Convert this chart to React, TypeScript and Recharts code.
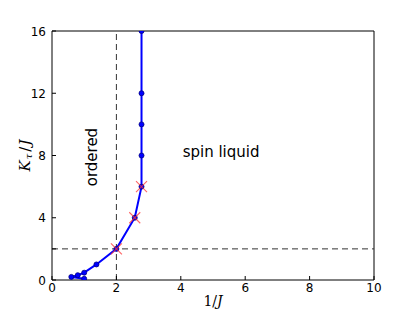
import React from 'react';
import { ComposedChart, Line, XAxis, YAxis, ReferenceLine, ReferenceDot } from 'recharts';

// phase boundary (blue line)
const boundaryInvJ = [1.0, 0.6, 0.8, 1.0, 1.38, 2.0, 2.57, 2.78, 2.78, 2.78, 2.78, 2.78];
const boundaryK = [0.08, 0.2, 0.31, 0.47, 1.0, 2.0, 4.0, 6.0, 8.0, 10.0, 12.0, 16.0];

// red crosses
const crossInvJ = [2.0, 2.57, 2.78];
const crossK = [2.0, 4.0, 6.0];

const xTicks = [0, 2, 4, 6, 8, 10];
const yTicks = [0, 2, 4, 8, 12, 16];
const yHiddenLabels = [2];

const boundary = boundaryInvJ.map((x, i) => ({ x, k: boundaryK[i] }));
const crosses = crossInvJ.map((x, i) => ({ x, k: crossK[i] }));

const tickFont = { fontFamily: 'DejaVu Sans', fontSize: 12, fill: '#000' };
const TL = 4;

const LeftTick = (props: any) => {
  const { x, y, payload } = props;
  return (
    <g>
      <line x1={x + 6} y1={y} x2={x + 6 + TL} y2={y} stroke="#000" />
      {!yHiddenLabels.includes(payload.value) && (
        <text x={x} y={y} dy={4.5} textAnchor="end" {...tickFont}>{payload.value}</text>
      )}
    </g>
  );
};

const BottomTick = (props: any) => {
  const { x, y, payload } = props;
  return (
    <g>
      <line x1={x} y1={y - 3} x2={x} y2={y - 3 - TL} stroke="#000" />
      <text x={x} y={y} dy={9} textAnchor="middle" {...tickFont}>{payload.value}</text>
    </g>
  );
};

const Cross = (props: any) => {
  const { cx, cy } = props;
  if (cx == null || cy == null) return null;
  const s = 5.5;
  return (
    <g stroke="#ff3030" strokeOpacity={0.75} strokeWidth={1.1}>
      <line x1={cx - s} y1={cy - s} x2={cx + s} y2={cy + s} />
      <line x1={cx - s} y1={cy + s} x2={cx + s} y2={cy - s} />
    </g>
  );
};

const YTitle = (props: any) => {
  const { viewBox } = props;
  const cx = viewBox.x + 25;
  const cy = viewBox.y + viewBox.height / 2;
  return (
    <text
      x={cx}
      y={cy}
      transform={`rotate(-90, ${cx}, ${cy})`}
      textAnchor="middle"
      dominantBaseline="central"
      fontFamily="DejaVu Serif"
      fontStyle="italic"
      fontSize={15}
      fill="#000"
    >
      K
      <tspan fontSize={10} dy={3} dx={1}>τ</tspan>
      <tspan dy={-3} dx={2} fontStyle="normal">/</tspan>
      <tspan dx={1}>J</tspan>
    </text>
  );
};

const XTitle = (props: any) => {
  const { viewBox } = props;
  const cx = viewBox.x + viewBox.width / 2;
  const cy = viewBox.y + 21;
  return (
    <text x={cx} y={cy} textAnchor="middle" dominantBaseline="central" fontFamily="DejaVu Serif" fontSize={14} fill="#000">
      1/<tspan fontStyle="italic">J</tspan>
    </text>
  );
};

const regionLabel = (text: string, rotate: boolean) => (props: any) => {
  const { viewBox } = props;
  const cx = viewBox.x + (viewBox.width || 0) / 2;
  const cy = viewBox.y + (viewBox.height || 0) / 2;
  return (
    <text
      x={cx}
      y={cy}
      transform={rotate ? `rotate(-90, ${cx}, ${cy})` : undefined}
      textAnchor="middle"
      dominantBaseline="central"
      fontFamily="DejaVu Sans"
      fontSize={15}
      fill="#000"
    >
      {text}
    </text>
  );
};

const App: React.FC = () => {
  return (
    <div style={{ position: 'absolute', left: 0, top: 0, width: 415, height: 312, background: '#fff' }}>
      <ComposedChart width={415} height={312} margin={{ top: 31, right: 41, left: 0, bottom: 0 }}>
        <XAxis
          xAxisId="b"
          dataKey="x"
          type="number"
          domain={[0, 10]}
          ticks={xTicks}
          allowDataOverflow
          height={32}
          tickSize={0}
          tickMargin={3}
          tickLine={false}
          tick={<BottomTick />}
          axisLine={{ stroke: '#000' }}
          label={<XTitle />}
        />
        <YAxis
          yAxisId="l"
          type="number"
          domain={[0, 16]}
          ticks={yTicks}
          allowDataOverflow
          width={52}
          tickSize={0}
          tickMargin={6}
          tickLine={false}
          tick={<LeftTick />}
          axisLine={{ stroke: '#000' }}
          label={<YTitle />}
        />
        <ReferenceLine xAxisId="b" yAxisId="l" x={10} stroke="#000" />
        <ReferenceLine xAxisId="b" yAxisId="l" y={16} stroke="#000" />
        <ReferenceLine xAxisId="b" yAxisId="l" x={2} stroke="#333" strokeDasharray="6 4" />
        <ReferenceLine xAxisId="b" yAxisId="l" y={2} stroke="#333" strokeDasharray="6 4" />
        <ReferenceDot xAxisId="b" yAxisId="l" x={1.23} y={7.9} r={0} fill="none" stroke="none" label={regionLabel('ordered', true)} />
        <ReferenceDot xAxisId="b" yAxisId="l" x={5.25} y={8.2} r={0} fill="none" stroke="none" label={regionLabel('spin liquid', false)} />
        <Line
          xAxisId="b"
          yAxisId="l"
          data={boundary}
          dataKey="k"
          type="linear"
          stroke="#0000ff"
          strokeWidth={2}
          dot={{ r: 2.5, fill: '#0000ff', stroke: '#000080', strokeWidth: 0.8 }}
          isAnimationActive={false}
        />
        <Line
          xAxisId="b"
          yAxisId="l"
          data={crosses}
          dataKey="k"
          stroke="none"
          dot={<Cross />}
          isAnimationActive={false}
        />
      </ComposedChart>
    </div>
  );
};

export default App;
